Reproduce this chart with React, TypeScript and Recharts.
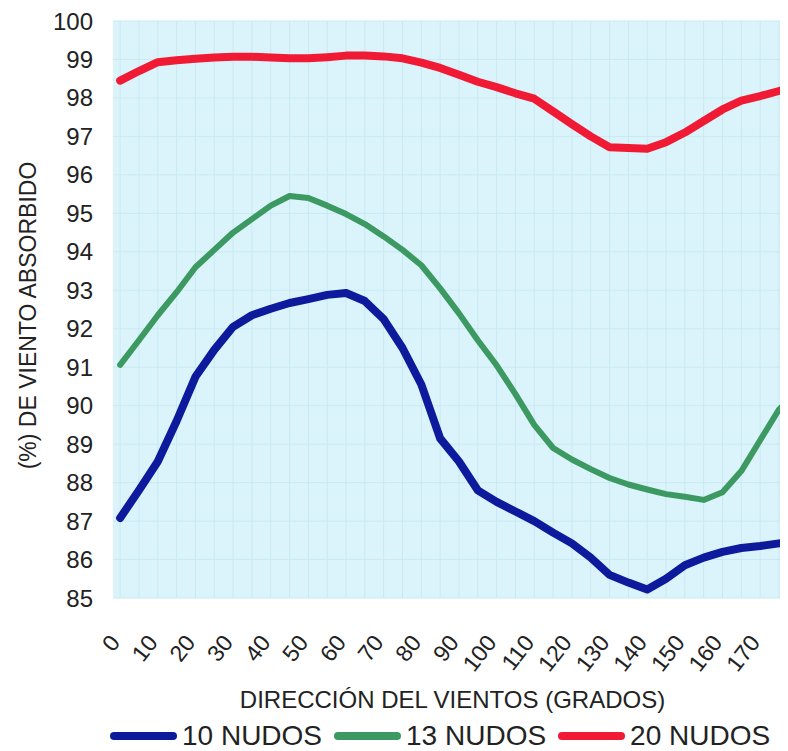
import React from "react";
import { LineChart, Line, XAxis, YAxis, CartesianGrid } from "recharts";

const directions = [0, 5, 10, 15, 20, 25, 30, 35, 40, 45, 50, 55, 60, 65, 70, 75, 80, 85, 90, 95, 100, 105, 110, 115, 120, 125, 130, 135, 140, 145, 150, 155, 160, 165, 170, 175, 180];
const nudos10 = [87.08, 87.8, 88.55, 89.6, 90.75, 91.45, 92.05, 92.35, 92.52, 92.67, 92.77, 92.88, 92.93, 92.72, 92.25, 91.5, 90.55, 89.15, 88.55, 87.8, 87.5, 87.25, 87.0, 86.7, 86.42, 86.05, 85.6, 85.4, 85.22, 85.5, 85.85, 86.05, 86.2, 86.3, 86.35, 86.42, 86.48];
const nudos13 = [91.06, 91.7, 92.35, 92.95, 93.6, 94.05, 94.5, 94.85, 95.2, 95.45, 95.4, 95.2, 94.98, 94.72, 94.4, 94.05, 93.65, 93.05, 92.4, 91.7, 91.05, 90.3, 89.5, 88.9, 88.6, 88.35, 88.12, 87.95, 87.82, 87.7, 87.63, 87.55, 87.75, 88.3, 89.1, 89.9, 90.4];
const nudos20 = [98.45, 98.7, 98.93, 98.98, 99.02, 99.05, 99.07, 99.07, 99.05, 99.03, 99.03, 99.06, 99.1, 99.1, 99.08, 99.03, 98.92, 98.78, 98.6, 98.42, 98.28, 98.12, 97.98, 97.65, 97.32, 97.0, 96.72, 96.7, 96.68, 96.85, 97.1, 97.4, 97.7, 97.93, 98.05, 98.18, 98.32];
const xTicks = [0, 10, 20, 30, 40, 50, 60, 70, 80, 90, 100, 110, 120, 130, 140, 150, 160, 170];
const yTicks = [85, 86, 87, 88, 89, 90, 91, 92, 93, 94, 95, 96, 97, 98, 99, 100];
const gridX = [0, 5, 10, 15, 20, 25, 30, 35, 40, 45, 50, 55, 60, 65, 70, 75, 80, 85, 90, 95, 100, 105, 110, 115, 120, 125, 130, 135, 140, 145, 150, 155, 160, 165, 170, 175];

const series = [
  { key: "n10", name: "10 NUDOS", color: "#0d1a9c", width: 8 },
  { key: "n13", name: "13 NUDOS", color: "#3d9962", width: 6 },
  { key: "n20", name: "20 NUDOS", color: "#f01a34", width: 8 },
];

const data = directions.map((d, i) => ({ dir: d, n10: nudos10[i], n13: nudos13[i], n20: nudos20[i] }));

const FONT = "'Liberation Sans', Arial, sans-serif";

const XTick = (props: any) => {
  const { x, y, payload } = props;
  return (
    <text
      x={x + 1}
      y={y + 37}
      transform={`rotate(-52, ${x + 1}, ${y + 37})`}
      textAnchor="end"
      fontSize={23}
      fontFamily={FONT}
      fill="#222"
    >
      {payload.value}
    </text>
  );
};

const YTitle = (props: any) => {
  const vb = props.viewBox;
  const cx = 20;
  const cy = vb.y + vb.height / 2 + 6;
  return (
    <text x={cx} y={cy} transform={`rotate(-90, ${cx}, ${cy})`} textAnchor="middle" dominantBaseline="central" fontSize={23} fontFamily={FONT} fill="#222">
      (%) DE VIENTO ABSORBIDO
    </text>
  );
};

const XTitle = (props: any) => {
  const vb = props.viewBox;
  return (
    <text x={vb.x + vb.width / 2 + 2} y={700} textAnchor="middle" fontSize={24} fontFamily={FONT} fill="#222">
      DIRECCIÓN DEL VIENTOS (GRADOS)
    </text>
  );
};

export default function App() {
  return (
    <div style={{ position: "relative", width: 780, height: 743, fontFamily: FONT }}>
      <LineChart width={780} height={743} data={data} margin={{ top: 13, right: 0, left: 25, bottom: 93 }}>
        <CartesianGrid
          fill="#dbf4fb"
          stroke="#c9e9f2"
          strokeWidth={1}
          verticalValues={gridX}
          horizontalValues={yTicks}
        />
        <XAxis
          dataKey="dir"
          type="number"
          domain={[-1.9, 177.4]}
          allowDataOverflow
          ticks={xTicks}
          interval={0}
          tickLine={false}
          axisLine={false}
          tick={<XTick />}
          height={60}
          label={<XTitle />}
        />
        <YAxis
          type="number"
          domain={[85, 100]}
          ticks={yTicks}
          interval={0}
          tickLine={false}
          axisLine={false}
          width={80}
          tickMargin={14}
          tick={{ fontSize: 24, fill: "#222", fontFamily: FONT }}
          label={<YTitle />}
        />
        {series.map((s) => (
          <Line
            key={s.key}
            type="linear"
            dataKey={s.key}
            name={s.name}
            stroke={s.color}
            strokeWidth={s.width}
            strokeLinejoin="round"
            strokeLinecap="round"
            dot={false}
            activeDot={false}
            isAnimationActive={false}
          />
        ))}
      </LineChart>
      <div style={{ position: "absolute", left: 102, top: 712, display: "flex", alignItems: "center" }}>
        {series.map((s) => (
          <div key={s.key} style={{ display: "flex", alignItems: "center", marginRight: 12 }}>
            <div style={{ width: 67, height: 8, borderRadius: 4, background: s.color, marginRight: 5 }} />
            <span style={{ fontSize: 28, color: "#222", lineHeight: "32px" }}>{s.name}</span>
          </div>
        ))}
      </div>
    </div>
  );
}
